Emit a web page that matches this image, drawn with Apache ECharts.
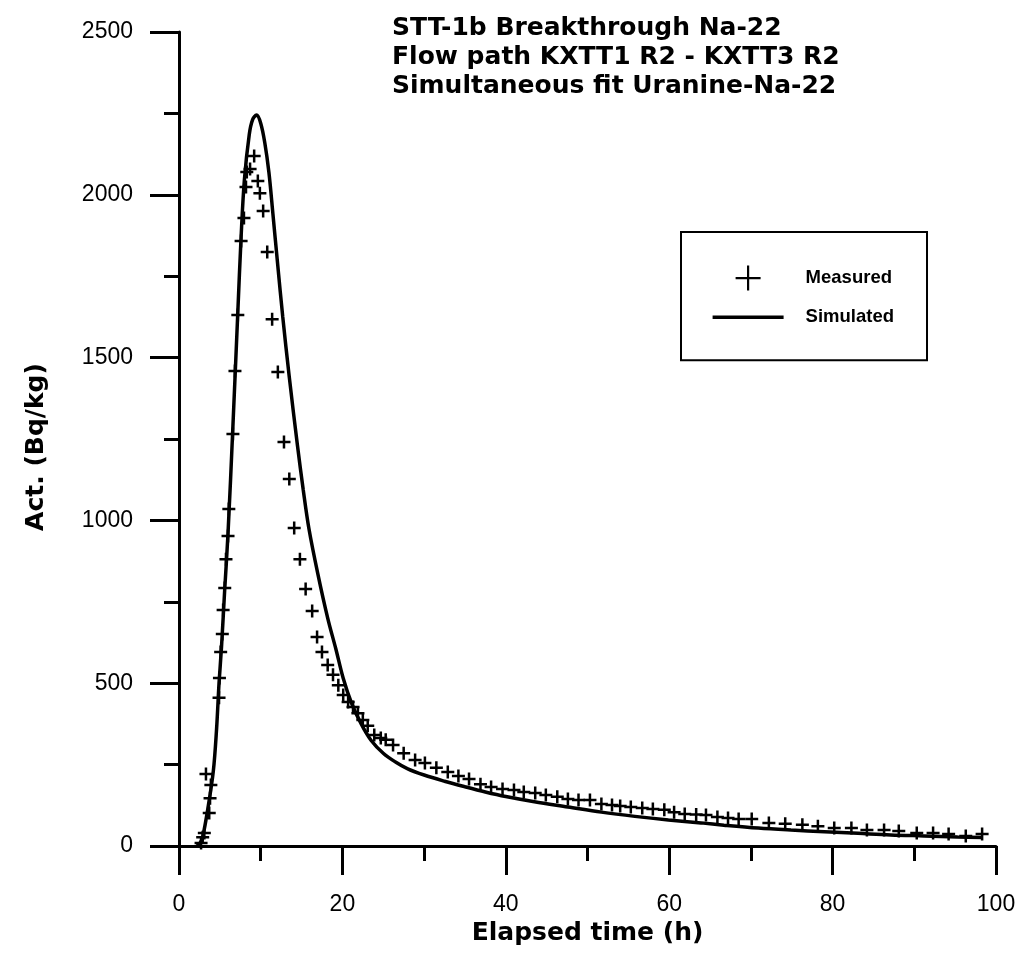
<!DOCTYPE html>
<html>
<head>
<meta charset="utf-8">
<title>STT-1b Breakthrough Na-22</title>
<script src="https://cdn.jsdelivr.net/npm/echarts@6/dist/echarts.min.js"></script>
<style>
  html, body { margin: 0; padding: 0; background: #fff; }
  #chart { width: 1030px; height: 960px; }
</style>
</head>
<body>
<div id="chart"></div>
<script>
// Measured Na-22 activity (Bq/kg) against elapsed time (h)
const measuredTime = [
  2.7, 2.9, 3.1, 3.3, 3.7, 3.8, 3.9, 4.9, 4.95, 5.1, 5.3, 5.4, 5.6, 5.75, 6.0, 6.1,
  6.6, 6.85, 7.2, 7.6, 7.95, 8.2, 8.3, 8.7, 9.2, 9.65, 9.9, 10.3, 10.8, 11.4, 12.1,
  12.85, 13.5, 14.1, 14.8, 15.5, 16.3, 16.9, 17.5, 18.2, 18.85, 19.5, 20.1, 20.7,
  21.3, 21.9, 22.5, 23.1, 23.9, 24.7, 25.3, 26.2, 27.5, 28.9, 30.1, 31.5, 32.9,
  34.2, 35.5, 36.9, 38.2, 39.6, 41.0, 42.2, 43.6, 44.9, 46.3, 47.6, 48.9, 50.3,
  51.7, 53.0, 54.0, 55.3, 56.7, 58.0, 59.4, 60.6, 61.9, 63.3, 64.5, 65.9, 67.2,
  68.5, 70.1, 72.2, 74.2, 76.3, 78.2, 80.2, 82.3, 84.2, 86.3, 88.1, 90.3, 92.3,
  94.2, 96.3, 98.3
];
const measuredAct = [
  9, 27, 40, 221, 101, 147, 187, 455, 516, 596, 651, 725, 792, 881, 952, 1035,
  1265, 1459, 1631, 1858, 1929, 2024, 2070, 2079, 2119, 2042, 2005, 1950, 1824, 1618, 1456,
  1241, 1127, 977, 881, 789, 722, 642, 596, 556, 526, 494, 464, 442,
  427, 408, 387, 369, 341, 332, 326, 310, 285, 264, 255, 240, 227,
  215, 206, 190, 181, 175, 172, 166, 163, 157, 151, 144, 141, 141,
  129, 126, 123, 120, 117, 114, 111, 104, 98, 97, 95, 89, 86,
  83, 83, 71, 68, 65, 61, 55, 55, 49, 49, 46, 40, 40,
  37, 31, 37
];

// Simulated breakthrough curve (simultaneous fit Uranine / Na-22)
const simulatedTime = [
  2.2, 2.6, 2.9, 3.5, 4.2, 4.6, 4.9, 5.2, 5.6, 6.0, 6.6, 7.2, 7.6, 8.0, 8.6, 9.0,
  9.5, 10.0, 10.5, 11.0, 11.5, 12.1, 12.7, 13.5, 14.5, 15.2, 15.9, 17.0, 18.2,
  19.2, 20.1, 21.1, 22.3, 23.5, 25.0, 26.5, 28.0, 30.0, 32.5, 35.0, 37.5, 40.0,
  43.5, 47.6, 51.7, 55.8, 59.9, 63.9, 66.7, 70.9, 74.9, 79.0, 83.1, 87.1, 91.2,
  95.3, 98.4
];
const simulatedAct = [
  0, 10, 28, 110, 230, 360, 500, 610, 790, 960, 1290, 1640, 1870, 2045, 2185, 2230,
  2245, 2220, 2160, 2070, 1940, 1780, 1625, 1440, 1230, 1095, 975, 835, 700,
  605, 515, 440, 375, 325, 285, 258, 237, 218, 199, 182, 166, 152,
  136, 120, 104, 91, 80, 71, 64, 55, 49, 44, 39, 34, 31,
  28, 26
];

const titleLines = [
  'STT-1b Breakthrough Na-22',
  'Flow path KXTT1 R2 - KXTT3 R2',
  'Simultaneous fit Uranine-Na-22'
];
const seriesNames = ['Measured', 'Simulated'];
const xAxisName = 'Elapsed time (h)';
const yAxisName = 'Act. (Bq/kg)';

const plusSymbol = 'path://M0,6H12M6,0V12';
// legend icons drawn inside the full 71x25 icon box
const plusLegendIcon = 'path://M0,0M71,25M23,12.5H48M35.5,0V25';
const lineLegendIcon = 'path://M0,0M71,25M0,10.75H71V14.25H0Z';

const boldFont = 'DejaVu Sans';
const tickFont = 'Liberation Sans';

const chart = echarts.init(document.getElementById('chart'), null, { renderer: 'canvas' });

const axisCommon = {
  type: 'value',
  axisLine: { show: true, lineStyle: { color: '#000', width: 3 } },
  axisTick: { show: true, inside: false, length: 29, lineStyle: { color: '#000', width: 3 } },
  minorTick: { show: true, splitNumber: 2, length: 15, lineStyle: { color: '#000', width: 3 } },
  splitLine: { show: false },
  minorSplitLine: { show: false },
  axisLabel: {
    color: '#000', fontFamily: tickFont, fontSize: 23,
    formatter: (v) => String(v)
  },
  nameLocation: 'middle',
  nameTextStyle: { color: '#000', fontFamily: boldFont, fontWeight: 'bold', fontSize: 25 }
};

chart.setOption({
  animation: false,
  backgroundColor: '#fff',
  title: {
    text: titleLines.join('\n'),
    left: 392,
    top: 14,
    padding: 0,
    textStyle: {
      color: '#000',
      fontFamily: boldFont,
      fontWeight: 'bold',
      fontSize: 25,
      lineHeight: 29
    }
  },
  grid: { left: 179, top: 32, width: 817, height: 814, containLabel: false },
  xAxis: Object.assign({}, axisCommon, {
    min: 0, max: 100, interval: 20,
    name: xAxisName, nameGap: 72,
    axisLabel: Object.assign({}, axisCommon.axisLabel, { margin: 47 })
  }),
  yAxis: Object.assign({}, axisCommon, {
    min: 0, max: 2500, interval: 500,
    name: yAxisName, nameGap: 130,
    nameTextStyle: Object.assign({}, axisCommon.nameTextStyle, { padding: [0, 16, 0, 0] }),
    axisLabel: Object.assign({}, axisCommon.axisLabel, { margin: 46 })
  }),
  legend: {
    orient: 'vertical',
    left: 681,
    top: 232,
    padding: [32.5, 33, 30.5, 30.5],
    itemWidth: 71,
    itemHeight: 25,
    itemGap: 13,
    borderColor: '#000',
    borderWidth: 2,
    selectedMode: false,
    textStyle: {
      color: '#000',
      fontFamily: tickFont,
      fontWeight: 'bold',
      fontSize: 18.5,
      padding: [0, 0, 0, 17]
    },
    data: [
      { name: seriesNames[0], icon: plusLegendIcon, itemStyle: { color: '#000', borderColor: '#000', borderWidth: 2.2 } },
      { name: seriesNames[1], icon: lineLegendIcon, itemStyle: { color: '#000', borderWidth: 0 } }
    ]
  },
  series: [
    {
      name: seriesNames[1],
      type: 'line',
      data: simulatedTime.map((t, i) => [t, simulatedAct[i]]),
      smooth: 0.35,
      symbol: 'none',
      showSymbol: false,
      lineStyle: { color: '#000', width: 3.5 },
      itemStyle: { color: '#000' },
      silent: true,
      z: 2
    },
    {
      name: seriesNames[0],
      type: 'scatter',
      data: measuredTime.map((t, i) => [t, measuredAct[i]]),
      symbol: plusSymbol,
      symbolSize: 13,
      itemStyle: { color: '#000', borderColor: '#000', borderWidth: 2.5, opacity: 1 },
      silent: true,
      z: 3
    }
  ]
});
</script>
</body>
</html>
